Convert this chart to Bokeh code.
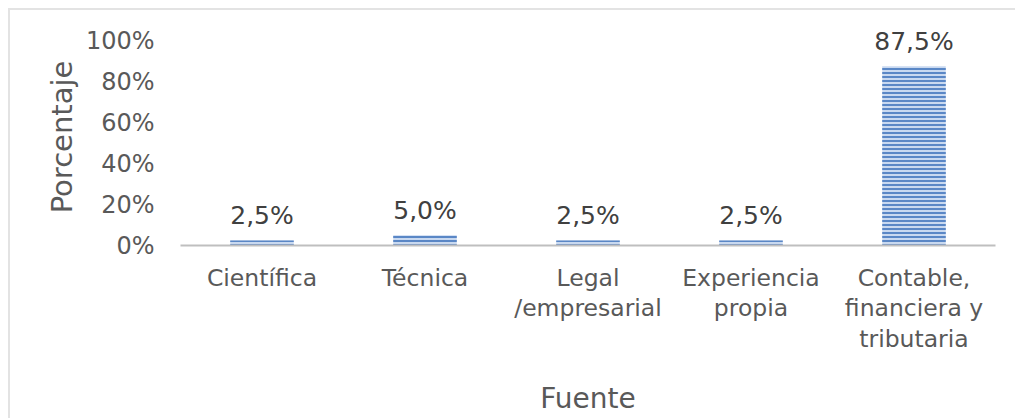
from bokeh.plotting import figure
from bokeh.models import ColumnDataSource, NumeralTickFormatter, FixedTicker
from bokeh.core.properties import value
from bokeh.embed import file_html
from bokeh.resources import INLINE

categories = ["Científica", "Técnica", "Legal\n/empresarial", "Experiencia\npropia",
              "Contable,\nfinanciera y\ntributaria"]
values = [0.025, 0.05, 0.025, 0.025, 0.875]
labels = ["2,5%", "5,0%", "2,5%", "2,5%", "87,5%"]
y_ticks = [0, 0.2, 0.4, 0.6, 0.8, 1.0]

FONT = "DejaVu Sans"

src = ColumnDataSource(dict(cat=categories, val=values, lab=labels))

p = figure(x_range=categories, y_range=(0, 1.06), width=1007, height=410,
           output_backend="svg", toolbar_location=None,
           min_border_left=170, min_border_right=22, min_border_top=18, min_border_bottom=175)
p.styles = {"margin-left": "8px", "margin-top": "8px",
            "border-top": "2px solid #e3e3e3", "border-left": "2px solid #e3e3e3"}

p.vbar(x="cat", top="val", width=0.39, source=src,
       fill_color="#c9d9f0", line_color=None,
       hatch_pattern="horizontal_line", hatch_color="#5a87c6", hatch_scale=4, hatch_weight=2)

p.text(x="cat", y="val", text="lab", source=src, y_offset=-10,
       text_align="center", text_baseline="bottom",
       text_font=value(FONT), text_font_size="25px", text_color="#404040")

p.outline_line_color = None
p.xgrid.grid_line_color = None
p.ygrid.grid_line_color = None

p.yaxis.ticker = FixedTicker(ticks=y_ticks)
p.yaxis.formatter = NumeralTickFormatter(format="0%")
p.yaxis.axis_line_color = None
p.yaxis.major_tick_line_color = None
p.yaxis.minor_tick_line_color = None
p.yaxis.major_label_standoff = 20
p.yaxis.major_label_text_font = FONT
p.yaxis.major_label_text_font_size = "24px"
p.yaxis.major_label_text_color = "#595959"
p.yaxis.axis_label = "Porcentaje"
p.yaxis.axis_label_text_font = FONT
p.yaxis.axis_label_text_font_size = "29px"
p.yaxis.axis_label_text_font_style = "normal"
p.yaxis.axis_label_text_color = "#595959"
p.yaxis.axis_label_standoff = 4

p.xaxis.axis_line_color = "#bfbfbf"
p.xaxis.axis_line_width = 2
p.xaxis.major_tick_line_color = None
p.xaxis.minor_tick_line_color = None
p.xaxis.major_label_standoff = 12
p.xaxis.major_label_text_font = FONT
p.xaxis.major_label_text_font_size = "23.5px"
p.xaxis.major_label_text_color = "#595959"
p.xaxis.major_label_text_line_height = 1.1
p.xaxis.axis_label = "Fuente"
p.xaxis.axis_label_text_font = FONT
p.xaxis.axis_label_text_font_size = "28px"
p.xaxis.axis_label_text_font_style = "normal"
p.xaxis.axis_label_text_color = "#595959"
p.xaxis.axis_label_standoff = 26

open("out.html", "w").write(file_html(p, INLINE))
